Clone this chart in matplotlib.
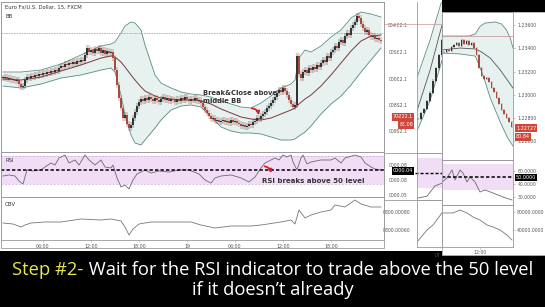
import numpy as np
import matplotlib
matplotlib.use('Agg')
import matplotlib.pyplot as plt
from matplotlib.patches import Rectangle, FancyArrowPatch
from matplotlib.lines import Line2D

# ---------------- data ----------------
# main chart: EUR/USD 15-min closes, pips above 1.2200
close_pips = [124,125,123,124,122,123,121,122,118,115,
              116,122,125,124,126,125,127,126,128,127,
              129,128,130,129,131,130,132,131,134,136,
              135,138,137,139,138,140,138,141,140,142,
              141,147,154,150,152,149,153,151,154,149,
              152,148,151,149,150,144,132,117,104,94,
              84,87,78,74,77,84,90,96,100,103,
              101,104,102,105,103,101,104,102,100,103,
              105,102,104,101,103,102,100,103,101,104,
              102,105,103,101,103,102,104,101,102,99,
              95,92,89,86,83,84,81,82,80,81,
              82,80,81,79,82,80,81,79,78,76,
              77,75,76,78,77,80,81,84,83,86,
              88,90,94,96,99,102,105,109,112,110,
              114,111,107,102,98,95,97,146,128,124,
              130,132,129,134,132,135,133,137,135,139,
              142,140,146,144,150,152,156,154,160,162,
              159,166,169,167,174,177,180,186,184,178,
              174,170,172,167,165,166,163,164,162,161]
band_idx = [0,9,19,29,39,49,54,56,59,61,64,66,69,71,76,79,84,89,94,99,
            104,109,114,119,124,129,134,139,144,146,148,151,154,159,164,169,174,179,184,189]
bb_upper_pips = [130,130,132,138,147,156,158,160,169,176,180,179,172,157,127,119,114,110,108,107,
                 105,101,98,95,94,99,106,114,118,122,144,152,150,156,165,172,184,190,188,185]
bb_mid_pips = [123,122,125,131,137,144,146,145,140,135,127,122,115,111,106,104,103,102,102,101,
               98,93,89,85,83,82,84,88,92,94,98,103,107,116,127,139,151,161,166,167]
bb_lower_pips = [116,114,118,124,127,132,134,130,107,87,67,59,57,62,74,82,92,96,97,95,
                 85,75,71,69,69,68,65,62,62,63,66,70,76,88,98,106,117,130,142,154]
ref_level = 1.2369

rsi_idx = [0,3,6,8,10,12,15,19,21,24,26,28,31,33,36,38,41,43,46,49,
           51,54,55,57,59,61,63,65,67,71,74,78,83,88,93,98,101,104,106,109,
           114,119,123,126,129,131,134,136,138,140,142,144,145,147,149,150,152,154,159,164,
           166,169,171,176,179,181,184,186,189]
rsi_vals = [41.4,42.9,41.4,34.3,30.0,50.0,48.6,50.0,54.3,60.0,57.1,67.1,71.4,60.0,64.3,57.1,71.4,64.3,57.1,64.3,
            54.3,52.9,57.1,38.6,25.7,28.6,22.9,35.7,44.3,50.0,45.7,48.6,47.1,50.0,50.0,44.3,35.7,31.4,38.6,41.4,
            42.9,38.6,32.9,40.0,52.9,60.0,64.3,67.1,64.3,71.4,68.6,71.4,61.4,50.0,67.1,71.4,58.6,61.4,64.3,64.3,
            67.1,60.0,67.1,71.4,68.6,60.0,54.3,51.4,50.0]

obv_idx = [0,5,9,11,14,21,29,39,49,54,59,61,63,65,68,74,84,94,99,106,
           114,124,129,139,144,146,148,151,154,159,164,166,171,176,179,184,189]
obv_vals = [17000,16000,13000,15000,17000,18000,18000,21000,20000,21000,19000,13000,5000,11000,16000,18000,18000,18000,15000,12000,
            14000,14000,15000,18000,20000,16000,30000,22000,25000,28000,30000,35000,33000,40000,36000,33000,33000]

time_tick_idx = [20,44,68,92,116,140,164]
time_tick_lbl = ['06:00','12:00','18:00','19','06:00','12:00','18:00']

# inset (front) chart
f_close = [1.23368,1.23385,1.23376,1.23411,1.23428,1.23445,1.23419,1.23471,1.23437,1.23462,
           1.23428,1.23445,1.23402,1.23342,1.23230,1.23161,1.23136,1.23144,1.23110,1.23058,
           1.23024,1.22972,1.22921,1.22869,1.22835,1.22800,1.22766,1.22723]
fu_x = [-1,2,10,12.5,14.5,16.5,20.5,23,25,26.5,27.6]
fu_v = [1.23505,1.23505,1.23505,1.23523,1.23591,1.23617,1.23626,1.23609,1.23557,1.23488,1.23402]
fm_x = [-1,6.5,12.5,15,18.5,22.5,27.6]
fm_v = [1.23385,1.23402,1.23394,1.23368,1.23316,1.23213,1.23058]
fl_x = [-1,6.5,12.5,14.5,16.5,18.5,22.5,25.5,27.6]
fl_v = [1.23359,1.23351,1.23333,1.23230,1.23110,1.22972,1.22766,1.22628,1.22559]
f_ref = 1.23505
f_price_ticks = [1.226,1.228,1.230,1.232,1.234,1.236]
f_rsi_x = [-0.8,1.2,3.2,4.4,6.4,7.6,9.2,10.4,12.4,14.4,16.4,19.6,23.6,27.2]
f_rsi_v = [43.1,49.2,61.5,46.2,61.5,56.9,43.1,50.8,43.1,27.7,30.8,26.2,20.0,15.4]
f_obv_x = [-0.8,1.2,3.6,6.4,9.2,11.6,14.4,17.2,19.6,22.4,25.2,27.2]
f_obv_v = [77800,77800,77800,84400,77800,68900,62200,51100,46700,40000,28900,17800]

# inset (back, mirrored) chart
b_close = [1.22800,1.22852,1.22886,1.22955,1.23024,1.23127,1.23230,1.23342,1.23471]
b_band_x = [-0.33,4,8]
b_top = [1.23153,1.23471,1.23815]
b_midl = [1.22869,1.23213,1.23600]
b_low = [1.22697,1.22955,1.23299]
b_rsi_x = [-0.33,3,5.67,8]
b_rsi_v = [16.2,18.8,32.5,36.2]
b_obv_x = [-0.33,3,5,8]
b_obv_v = [13300,40000,51100,77800]

# ---------------- figure ----------------
W, H = 545, 307
fig = plt.figure(figsize=(W/100, H/100), dpi=100, facecolor='black')

def axpx(x0, y0, x1, y1):
    return fig.add_axes([x0/W, 1 - y1/H, (x1-x0)/W, (y1-y0)/H])

def rectpx(x0, y0, x1, y1, **kw):
    r = Rectangle((x0/W, 1-y1/H), (x1-x0)/W, (y1-y0)/H, transform=fig.transFigure, **kw)
    fig.add_artist(r)
    return r

def fx(x): return x/W
def fy(y): return 1 - y/H

SP = '#9a9a9a'
UP, DN = '#333333', '#a94a3e'
BFILL, BLINE, BMID = '#e6f1f0', '#5e8c83', '#7a3a36'
PINK = '#f1ddf6'
TXT = '#555555'

rectpx(0, 0, W, 251, facecolor='white', edgecolor='none', zorder=-5)

def style(ax, color=SP):
    ax.set_facecolor('none')
    for s in ax.spines.values():
        s.set_color(color); s.set_linewidth(0.6)
    ax.tick_params(left=False, right=False, bottom=False, top=False,
                   labelleft=False, labelbottom=False)

def candles(ax, x, close, w, wick):
    close = np.asarray(close, float)
    opn = np.r_[close[0], close[:-1]]
    lo = np.minimum(opn, close); hi = np.maximum(opn, close)
    cols = np.where(close >= opn, UP, DN)
    ax.vlines(x, lo - wick, hi + wick, colors=cols, lw=0.35, zorder=3)
    ax.bar(x, np.maximum(hi - lo, wick*0.2), bottom=lo, width=w, color=cols, zorder=4, linewidth=0)

# ----- main price panel -----
idx = np.arange(len(close_pips))
closes = 1.22 + np.array(close_pips)/1e4
bu = 1.22 + np.array(bb_upper_pips)/1e4
bm = 1.22 + np.array(bb_mid_pips)/1e4
bl = 1.22 + np.array(bb_lower_pips)/1e4

axp = axpx(1, 2, 384, 152)
style(axp)
axp.set_xlim(-1, 190.5); axp.set_ylim(1.2250, 1.2400)
axp.fill_between(band_idx, bl, bu, color=BFILL, lw=0, zorder=1)
axp.plot(band_idx, bu, color=BLINE, lw=0.6, zorder=2)
axp.plot(band_idx, bl, color=BLINE, lw=0.6, zorder=2)
axp.plot(band_idx, bm, color=BMID, lw=0.7, zorder=2)
axp.axhline(ref_level, color='#d79a9a', lw=0.6, ls=(0, (2, 1)), zorder=2)
candles(axp, idx, closes, 0.55, 0.00026)

fig.text(fx(5), fy(7), 'Euro Fx/U.S. Dollar, 15, FXCM', fontsize=3.8, color='#333333', va='center')
fig.text(fx(5), fy(16), 'BB', fontsize=3.8, color='#333333', va='center')
fig.text(fx(203), fy(93), 'Break&Close above', fontsize=4.9, color='#333333', weight='bold', va='center')
fig.text(fx(203), fy(101.5), 'middle BB', fontsize=4.9, color='#333333', weight='bold', va='center')
fig.add_artist(FancyArrowPatch((fx(249), fy(108)), (fx(259), fy(118)), transform=fig.transFigure,
                               connectionstyle='arc3,rad=-0.5', arrowstyle='-|>', mutation_scale=4.5,
                               color='#d42020', lw=1.3, zorder=6))

# ----- main RSI panel -----
axr = axpx(1, 152, 384, 197)
style(axr)
axr.set_xlim(-1, 190.5); axr.set_ylim(11.4, 75.7)
axr.axhspan(30, 70, color=PINK, lw=0, zorder=1)
axr.axhline(70, color='#c9a9d2', lw=0.5, ls=(0, (3, 2)), zorder=2)
axr.axhline(30, color='#c9a9d2', lw=0.5, ls=(0, (3, 2)), zorder=2)
axr.plot(rsi_idx, rsi_vals, color='#6a6a6a', lw=0.6, zorder=3)
axr.axhline(50, color='black', lw=1.1, ls=(0, (2.2, 1.4)), zorder=4)
fig.text(fx(5), fy(160), 'RSI', fontsize=3.8, color='#333333', va='center')
fig.text(fx(262), fy(181), 'RSI breaks above 50 level', fontsize=5.0, color='#333333', weight='bold', va='center')
fig.add_artist(FancyArrowPatch((fx(262), fy(166)), (fx(271), fy(176)), transform=fig.transFigure,
                               connectionstyle='arc3,rad=-0.5', arrowstyle='-|>', mutation_scale=4.5,
                               color='#d42020', lw=1.3, zorder=6))

# ----- main OBV panel -----
axo = axpx(1, 197, 384, 240)
style(axo)
axo.set_xlim(-1, 190.5); axo.set_ylim(0, 43000)
axo.plot(obv_idx, obv_vals, color='#777777', lw=0.6)
axo.set_xticks(time_tick_idx)
axo.set_xticklabels(time_tick_lbl)
axo.tick_params(bottom=True, labelbottom=True, length=1.5, width=0.4, color=SP,
                labelsize=3.4, labelcolor=TXT, pad=1.2)
fig.text(fx(5), fy(204), 'OBV', fontsize=3.8, color='#333333', va='center')
rectpx(1, 2, 384, 248, facecolor='none', edgecolor=SP, lw=0.6, zorder=5)

# ----- back (mirrored) inset -----
def bk(x): return (x - 418) / 3.0
bxl = (bk(417), bk(442))
axb = axpx(417, 2, 442, 153)
style(axb)
axb.spines['right'].set_visible(False); axb.spines['top'].set_visible(False)
axb.set_xlim(*bxl); axb.set_ylim(1.22508, 1.23798)
axb.fill_between(b_band_x, b_low, b_top, color=BFILL, lw=0)
axb.plot(b_band_x, b_top, color=BLINE, lw=0.6)
axb.plot(b_band_x, b_low, color=BLINE, lw=0.6)
axb.plot(b_band_x, b_midl, color='#555555', lw=0.6)
candles(axb, np.arange(len(b_close)), b_close, 0.8, 0.0001)
axb.plot([bk(385), bxl[1]], [1.23609, 1.23609], color='#d4a5a5', lw=0.6, clip_on=False)
axb.set_yticks([1.23600, 1.23368, 1.23136, 1.22921, 1.22697])
axb.set_yticklabels(['00#Ɛ2.1', '00SƐ2.1', '000Ɛ2.1', '008S2.1', '009S2.1'])
axb.tick_params(labelleft=True, labelsize=3.3, labelcolor=TXT, pad=3)
for yy, s in [(117, '70Ƨ22.1'), (125, 'ƐƐ.08')]:
    fig.text(fx(413), fy(yy), s, fontsize=3.5, color='white', ha='right', va='center',
             bbox=dict(boxstyle='square,pad=0.25', fc='#d0463a', ec='none'))

axbr = axpx(417, 153, 442, 200)
style(axbr)
axbr.spines['right'].set_visible(False)
axbr.set_xlim(*bxl); axbr.set_ylim(13.75, 76.25)
axbr.axhspan(30, 70, color=PINK, lw=0)
axbr.plot(b_rsi_x, b_rsi_v, color='#6a6a6a', lw=0.6)
axbr.plot([bk(395), bxl[1]], [50, 50], color='black', lw=1.0, ls=(0, (2.2, 1.4)), clip_on=False)
axbr.set_yticks([60, 40, 20])
axbr.set_yticklabels(['0000.08', '0000.08', '0000.05'])
axbr.tick_params(labelleft=True, labelsize=3.3, labelcolor=TXT, pad=3)
fig.text(fx(413), fy(171), '0000.04', fontsize=3.5, color='white', ha='right', va='center',
         bbox=dict(boxstyle='square,pad=0.25', fc='black', ec='none'))

axbo = axpx(417, 200, 442, 247)
style(axbo)
axbo.spines['right'].set_visible(False)
axbo.set_xlim(*bxl); axbo.set_ylim(2222, 106667)
axbo.plot(b_obv_x, b_obv_v, color='#777777', lw=0.6)
axbo.set_yticks([80000, 40000])
axbo.set_yticklabels(['0800.00080', '0800.00060'])
axbo.tick_params(labelleft=True, labelsize=3.3, labelcolor=TXT, pad=3)
axbo.set_xticks([bk(438)]); axbo.set_xticklabels(['07'])
axbo.tick_params(labelbottom=True, labelsize=3.3, labelcolor=TXT, pad=1)
fig.add_artist(Line2D([fx(385), fx(417)], [fy(153), fy(153)], color=SP, lw=0.6))
fig.add_artist(Line2D([fx(385), fx(417)], [fy(200), fy(200)], color=SP, lw=0.6))

# ----- front inset -----
rectpx(442, 12, 548, 255, facecolor='white', edgecolor='#b0b0b0', lw=0.6, zorder=0.5)
rectpx(442, -1, 548, 12, facecolor='black', edgecolor='none', zorder=6)
fxl = (-0.8, 27.6)
fj = np.arange(len(f_close))

axf = axpx(442, 12, 513, 160)
style(axf)
axf.set_zorder(2)
axf.set_xlim(*fxl); axf.set_ylim(1.224394, 1.237118)
axf.fill(np.r_[fu_x, fl_x[::-1]], np.r_[fu_v, fl_v[::-1]], color=BFILL, lw=0)
axf.plot(fu_x, fu_v, color=BLINE, lw=0.6)
axf.plot(fl_x, fl_v, color=BLINE, lw=0.6)
axf.plot(fm_x, fm_v, color='#555555', lw=0.6)
axf.axhline(f_ref, color='#c9a0a0', lw=0.6)
candles(axf, fj, f_close, 0.6, 0.00012)
axf.yaxis.tick_right()
axf.set_yticks(f_price_ticks)
axf.set_yticklabels(['%.5f' % v for v in f_price_ticks])
axf.tick_params(right=True, labelright=True, length=1.5, width=0.4, color=SP,
                labelsize=3.3, labelcolor=TXT, pad=2)
for yy, s in [(128, '1.22727'), (137, '80.84')]:
    fig.text(fx(516), fy(yy), s, fontsize=3.5, color='white', ha='left', va='center', zorder=7,
             bbox=dict(boxstyle='square,pad=0.25', fc='#d0463a', ec='none'))

axfr = axpx(442, 160, 513, 205)
style(axfr)
axfr.set_zorder(2)
axfr.set_xlim(*fxl); axfr.set_ylim(7.7, 76.9)
axfr.axhspan(30, 70, color=PINK, lw=0)
axfr.plot(f_rsi_x, f_rsi_v, color='#6a6a6a', lw=0.6)
axfr.axhline(50, color='black', lw=1.1, ls=(0, (2.2, 1.4)))
axfr.yaxis.tick_right()
axfr.set_yticks([60, 40, 20])
axfr.set_yticklabels(['60.0000', '40.0000', '30.0000'])
axfr.tick_params(right=True, labelright=True, length=1.5, width=0.4, color=SP,
                 labelsize=3.3, labelcolor=TXT, pad=2)
fig.text(fx(516), fy(177.5), '50.0000', fontsize=3.5, color='white', ha='left', va='center', zorder=7,
         bbox=dict(boxstyle='square,pad=0.25', fc='black', ec='none'))

axfo = axpx(442, 205, 513, 247)
style(axfo)
axfo.set_zorder(2)
axfo.set_xlim(*fxl); axfo.set_ylim(2222, 95556)
axfo.plot(f_obv_x, f_obv_v, color='#777777', lw=0.6)
axfo.yaxis.tick_right()
axfo.set_yticks([80000, 40000])
axfo.set_yticklabels(['80000.0000', '40000.0000'])
axfo.tick_params(right=True, labelright=True, length=1.5, width=0.4, color=SP,
                 labelsize=3.3, labelcolor=TXT, pad=2)
axfo.set_xticks([14.4]); axfo.set_xticklabels(['12:00'])
axfo.tick_params(bottom=True, labelbottom=True, labelsize=3.3, labelcolor=TXT, pad=1, length=1.5)

# ----- caption -----
renderer = fig.canvas.get_renderer()
FS = 13.2

def mixed_line(parts, ybase):
    ts = [fig.text(0, fy(ybase), s, color=c, fontsize=FS, family='Open Sans', va='baseline', ha='left', zorder=8)
          for s, c in parts]
    ws = [t.get_window_extent(renderer).width for t in ts]
    x = (W - sum(ws)) / 2
    for t, w in zip(ts, ws):
        t.set_x(fx(x)); x += w

mixed_line([('Step #2-', '#e4e84e'), (' Wait for the RSI indicator to trade above the 50 level', 'white')], 275)
mixed_line([('if it doesn\u2019t already', 'white')], 295)

fig.savefig('out.png', dpi=100, facecolor=fig.get_facecolor())
